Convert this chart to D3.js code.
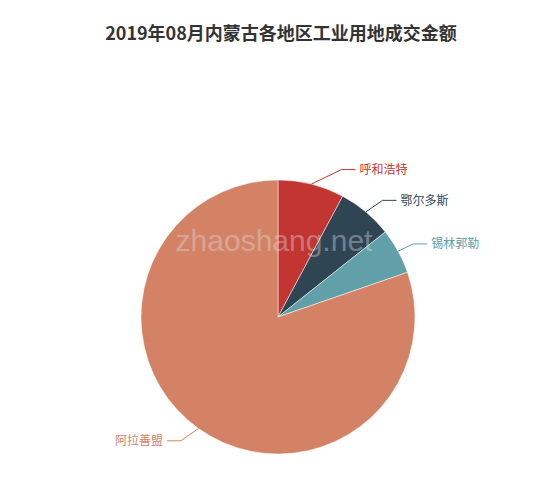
<!DOCTYPE html>
<html>
<head>
<meta charset="utf-8">
<script src="https://cdn.jsdelivr.net/npm/d3@7"></script>
<style>
    html, body { margin: 0; padding: 0; background: #fff; }
</style>
</head>
<body>
<div id="chart"></div>
<script>
/*global d3*/
(function () {
    'use strict';

    var regions = ['呼和浩特', '鄂尔多斯', '锡林郭勒', '阿拉善盟'],
        amounts = [1950, 1620, 1340, 20000],
        colors = ['#c23531', '#2f4554', '#61a0a8', '#d48265'],
        title = '2019年08月内蒙古各地区工业用地成交金额',

        width = 550,
        height = 490,
        cx = 278,
        cy = 317,
        radius = 137,
        len1 = 15,
        len2 = 15,
        font = '"Noto Sans CJK SC", "Microsoft YaHei", sans-serif',

        svg = d3.select('#chart')
            .append('svg')
            .attr('width', width)
            .attr('height', height),

        pie = d3.pie().sort(null).value(function (d) { return d.value; }),
        arc = d3.arc().innerRadius(0).outerRadius(radius),
        color = d3.scaleOrdinal().domain(regions).range(colors),

        data = regions.map(function (r, i) {
            return { name: r, value: amounts[i] };
        }),
        slices = pie(data);

    svg.append('text')
        .attr('x', 281)
        .attr('y', 40)
        .attr('text-anchor', 'middle')
        .style('font-family', font)
        .style('font-size', '18px')
        .style('font-weight', 'bold')
        .style('fill', '#333')
        .text(title);

    var g = svg.append('g').attr('transform', 'translate(' + cx + ',' + cy + ')');

    g.selectAll('path.slice')
        .data(slices)
        .enter()
        .append('path')
        .attr('class', 'slice')
        .attr('d', arc)
        .style('fill', function (d) { return color(d.data.name); })
        .style('stroke', '#fff')
        .style('stroke-width', 0.5);

    // label layout, roughly the way echarts puts pie labels
    var labels = slices.map(function (d) {
        var mid = (d.startAngle + d.endAngle) / 2,
            sx = Math.sin(mid),
            sy = -Math.cos(mid),
            dir = sx >= 0 ? 1 : -1,
            ly = (radius + len1) * sy,
            dx = Math.sqrt(Math.pow(radius + len1 + len2, 2) - ly * ly),
            tx = dir * (dx + 3);
        return {
            d: d,
            dir: dir,
            p0: [radius * sx, radius * sy],
            tx: tx,
            ty: ly,
            end: tx - dir * 4,
            elbow: tx - dir * 18
        };
    });

    g.selectAll('polyline.label-line')
        .data(labels)
        .enter()
        .append('polyline')
        .attr('class', 'label-line')
        .attr('points', function (l) {
            return [l.p0, [l.elbow, l.ty], [l.end, l.ty]].join(' ');
        })
        .style('fill', 'none')
        .style('stroke', function (l) { return color(l.d.data.name); })
        .style('stroke-width', 1);

    g.selectAll('text.label')
        .data(labels)
        .enter()
        .append('text')
        .attr('class', 'label')
        .attr('x', function (l) { return l.tx; })
        .attr('y', function (l) { return l.ty; })
        .attr('dy', '0.35em')
        .attr('text-anchor', function (l) { return l.dir > 0 ? 'start' : 'end'; })
        .style('font-family', font)
        .style('font-size', '12px')
        .style('fill', function (l) { return color(l.d.data.name); })
        .text(function (l) { return l.d.data.name; });

    // watermark
    svg.append('text')
        .attr('x', 274)
        .attr('y', 251)
        .attr('text-anchor', 'middle')
        .style('font-family', '"Liberation Sans", Arial, sans-serif')
        .style('font-size', '30px')
        .style('fill', 'rgba(225,225,225,0.4)')
        .text('zhaoshang.net');
}());
</script>
</body>
</html>
